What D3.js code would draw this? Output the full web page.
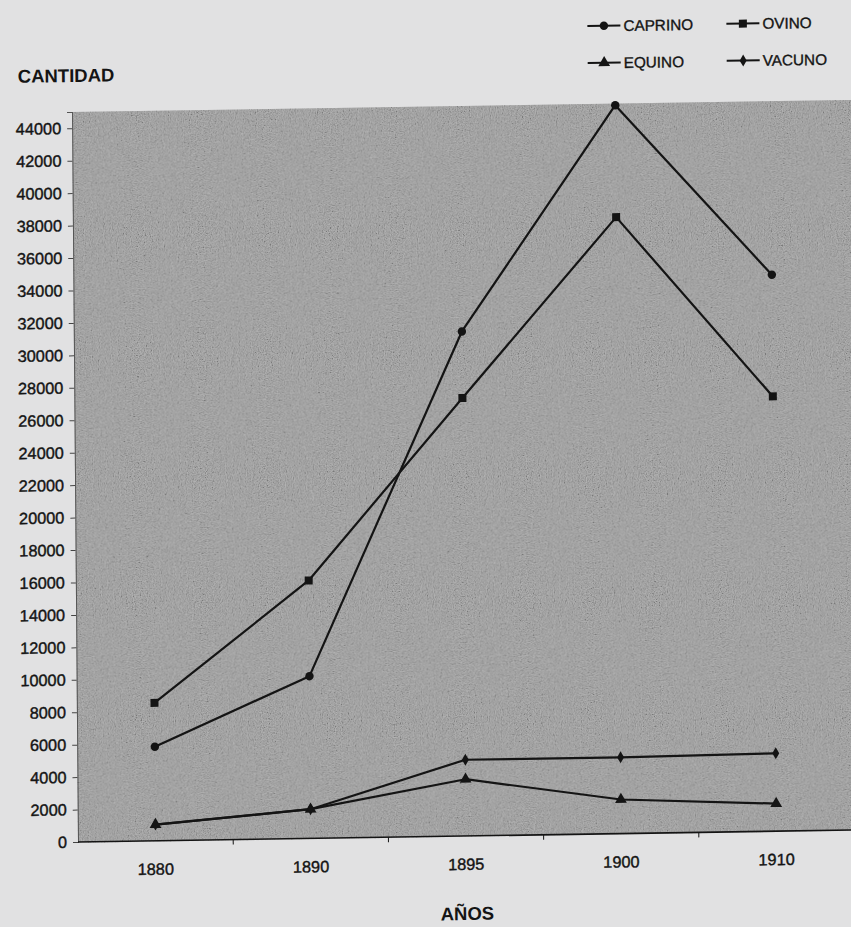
<!DOCTYPE html>
<html>
<head>
<meta charset="utf-8">
<script src="https://cdn.jsdelivr.net/npm/d3@7"></script>
<style>
  html, body { margin: 0; padding: 0; background: #e1e1e2; }
  svg { display: block; }
  text { font-family: "Liberation Sans", Arial, Helvetica, sans-serif; fill: #141414; }
</style>
</head>
<body>
<svg id="chart" width="851" height="927"></svg>
<script>
// Livestock counts by census year
const years   = ["1880", "1890", "1895", "1900", "1910"];
const caprino = [5800, 10000, 31100, 44900, 34300];
const ovino   = [8500, 15900, 27000, 38000, 26800];
const equino  = [1000, 1800, 3500, 2100, 1700];
const vacuno  = [1000, 1800, 4700, 4700, 4800];
const yTicks  = d3.range(0, 44001, 2000);
const yMax    = 45000;

const series = [
  { name: "CAPRINO", values: caprino, symbol: d3.symbolCircle,   size: 56 },
  { name: "OVINO",   values: ovino,   symbol: d3.symbolSquare,   size: 64 },
  { name: "EQUINO",  values: equino,  symbol: d3.symbolTriangle, size: 60 },
  { name: "VACUNO",  values: vacuno,  symbol: d3.symbolDiamond,  size: 42 }
];

const plot = { left: 78, right: 854, top: 112, bottom: 842 };
const overhang = 30;   // fill runs past the page trim on the right
const ink = "#141414";

const svg = d3.select("#chart");

// printed halftone grain for the plot fill
const defs = svg.append("defs");
const grain = defs.append("filter").attr("id", "grain")
  .attr("x", 0).attr("y", 0).attr("width", "100%").attr("height", "100%");
grain.append("feTurbulence")
  .attr("type", "fractalNoise").attr("baseFrequency", 0.85)
  .attr("numOctaves", 2).attr("seed", 7).attr("result", "noise");
grain.append("feColorMatrix").attr("type", "saturate").attr("values", 0).attr("result", "grey");
const ct = grain.append("feComponentTransfer");
["R", "G", "B"].forEach(c => ct.append(`feFunc${c}`).attr("type", "linear").attr("slope", 2.6).attr("intercept", -0.8));
ct.append("feFuncA").attr("type", "table").attr("tableValues", "1 1");

// the printed page sits slightly askew
const page = svg.append("g")
  .attr("transform", "matrix(1,-0.0155,0.0082,1,-6.9,1.21)");

const x = d3.scaleBand().domain(years).range([plot.left, plot.right]).padding(0);
const y = d3.scaleLinear().domain([0, yMax]).range([plot.bottom, plot.top]);

// plot background
page.append("rect")
  .attr("x", plot.left).attr("y", plot.top)
  .attr("width", plot.right - plot.left + overhang).attr("height", plot.bottom - plot.top)
  .attr("fill", "#9c9c9c");
page.append("rect")
  .attr("x", plot.left).attr("y", plot.top)
  .attr("width", plot.right - plot.left + overhang).attr("height", plot.bottom - plot.top)
  .attr("filter", "url(#grain)")
  .attr("opacity", 0.22);

// y axis
const yAxis = page.append("g")
  .attr("transform", `translate(${plot.left},0)`)
  .call(d3.axisLeft(y).tickValues(yTicks).tickSize(5).tickPadding(6).tickFormat(d3.format("d")));
yAxis.select(".domain").attr("stroke", "#555").attr("stroke-width", 1);
yAxis.selectAll(".tick line").attr("stroke", "#444");
yAxis.selectAll("text")
  .attr("font-size", 16.3).attr("fill", ink)
  .attr("stroke", ink).attr("stroke-width", 0.4)
  .style("font-family", "'Liberation Sans', Arial, sans-serif");

// x axis line, boundary ticks and year labels
page.append("line")
  .attr("x1", plot.left).attr("x2", plot.right + overhang)
  .attr("y1", plot.bottom).attr("y2", plot.bottom)
  .attr("stroke", ink).attr("stroke-width", 1.6);
page.append("g").selectAll("line")
  .data(years)
  .join("line")
  .attr("x1", d => x(d) + x.bandwidth()).attr("x2", d => x(d) + x.bandwidth())
  .attr("y1", plot.bottom).attr("y2", plot.bottom + 5)
  .attr("stroke", ink).attr("stroke-width", 1);
page.append("g").selectAll("text")
  .data(years)
  .join("text")
  .attr("x", d => x(d) + x.bandwidth() / 2)
  .attr("y", 876)
  .attr("text-anchor", "middle")
  .attr("font-size", 16.3)
  .attr("stroke", ink).attr("stroke-width", 0.4)
  .text(d => d);

// axis titles
page.append("text")
  .attr("x", 24).attr("y", 82)
  .attr("font-size", 18.5).attr("font-weight", "bold")
  .text("CANTIDAD");
page.append("text")
  .attr("x", 440).attr("y", 926)
  .attr("font-size", 18.5).attr("font-weight", "bold")
  .text("AÑOS");

// series lines and markers
const line = d3.line()
  .x((d, i) => x(years[i]) + x.bandwidth() / 2)
  .y(d => y(d));

series.forEach(s => {
  page.append("path")
    .datum(s.values)
    .attr("fill", "none")
    .attr("stroke", ink)
    .attr("stroke-width", 2.2)
    .attr("stroke-linejoin", "round")
    .attr("d", line);
  page.append("g").selectAll("path")
    .data(s.values)
    .join("path")
    .attr("d", d3.symbol().type(s.symbol).size(s.size))
    .attr("transform", (d, i) => `translate(${x(years[i]) + x.bandwidth() / 2},${y(d)})`)
    .attr("fill", ink);
});

// legend, two columns by two rows
const legendCols = [594, 733];
const legendRows = [34, 71];
const legend = page.append("g");
series.forEach((s, i) => {
  const lx = legendCols[i % 2];
  const ly = legendRows[Math.floor(i / 2)];
  const item = legend.append("g").attr("transform", `translate(${lx},${ly})`);
  item.append("line")
    .attr("x1", 0).attr("x2", 33).attr("y1", 0).attr("y2", 0)
    .attr("stroke", ink).attr("stroke-width", 2);
  item.append("path")
    .attr("d", d3.symbol().type(s.symbol).size(s.size))
    .attr("transform", "translate(16.5,0)")
    .attr("fill", ink);
  item.append("text")
    .attr("x", 36).attr("y", 5.5)
    .attr("font-size", 15.3)
    .attr("stroke", ink).attr("stroke-width", 0.35)
    .text(s.name);
});
</script>
</body>
</html>
